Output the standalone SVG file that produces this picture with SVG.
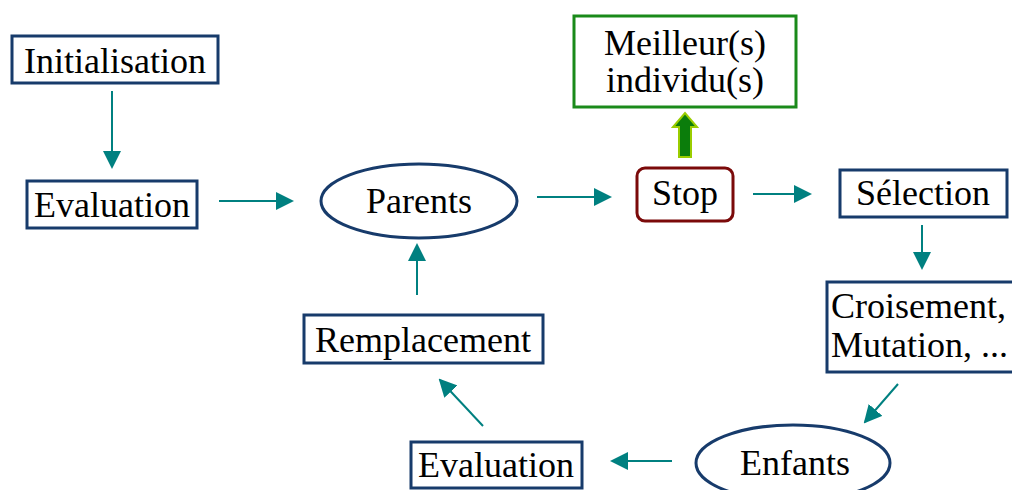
<svg xmlns="http://www.w3.org/2000/svg" width="1012" height="490" viewBox="0 0 1012 490">
<defs>
<marker id="ah" markerWidth="9" markerHeight="9" refX="8" refY="4.5" orient="auto" markerUnits="strokeWidth">
<path d="M0,0 L9,4.5 L0,9 Z" fill="#008080"/>
</marker>
</defs>
<rect width="1012" height="490" fill="#fff"/>
<g id="connectors" stroke="#008080" stroke-width="2" fill="none" marker-end="url(#ah)">
<line x1="112" y1="91" x2="112" y2="167"/>
<line x1="219" y1="201" x2="292" y2="201"/>
<line x1="537" y1="197" x2="610" y2="197"/>
<line x1="753" y1="194" x2="810" y2="194"/>
<line x1="922" y1="225" x2="922" y2="268"/>
<line x1="898" y1="384" x2="865" y2="422"/>
<line x1="672" y1="461" x2="612" y2="461"/>
<line x1="483" y1="426" x2="440" y2="380"/>
<line x1="417" y1="295" x2="417" y2="245"/>
</g>
<g id="stop-arrow">
<path d="M679,157 L679,127 L673,127 L685,113 L697,127 L691,127 L691,157 Z" fill="#0b7d0b" stroke="#9acd00" stroke-width="2"/>
</g>
<g font-family="Liberation Serif" font-size="36" fill="#000">
<g id="initialisation">
<rect x="12" y="36" width="206" height="47" fill="#fff" stroke="#173b6b" stroke-width="3"/>
<text x="115" y="73" text-anchor="middle">Initialisation</text>
</g>
<g id="evaluation1">
<rect x="27" y="181" width="170" height="47" fill="#fff" stroke="#173b6b" stroke-width="3"/>
<text x="112" y="217" text-anchor="middle">Evaluation</text>
</g>
<g id="parents">
<ellipse cx="419" cy="201" rx="98" ry="37" fill="#fff" stroke="#173b6b" stroke-width="3"/>
<text x="419" y="213" text-anchor="middle">Parents</text>
</g>
<g id="stop">
<rect x="637" y="168" width="96" height="53" rx="8" fill="#fff" stroke="#7b0a0a" stroke-width="3"/>
<text x="685" y="205" text-anchor="middle">Stop</text>
</g>
<g id="meilleurs">
<rect x="574" y="16" width="222" height="91" fill="#fff" stroke="#1a8a1a" stroke-width="3"/>
<text x="685" y="55" text-anchor="middle">Meilleur(s)</text>
<text x="685" y="92" text-anchor="middle">individu(s)</text>
</g>
<g id="selection">
<rect x="840" y="170" width="167" height="47" fill="#fff" stroke="#173b6b" stroke-width="3"/>
<text x="923" y="205" text-anchor="middle">Sélection</text>
</g>
<g id="croisement">
<rect x="827" y="282" width="200" height="90" fill="#fff" stroke="#173b6b" stroke-width="3"/>
<text x="831" y="318">Croisement,</text>
<text x="831" y="357">Mutation, ...</text>
</g>
<g id="enfants">
<ellipse cx="793" cy="463" rx="97" ry="38" fill="#fff" stroke="#173b6b" stroke-width="3"/>
<text x="795" y="475" text-anchor="middle">Enfants</text>
</g>
<g id="evaluation2">
<rect x="411" y="442" width="171" height="46" fill="#fff" stroke="#173b6b" stroke-width="3"/>
<text x="496" y="477" text-anchor="middle">Evaluation</text>
</g>
<g id="remplacement">
<rect x="304" y="315" width="239" height="48" fill="#fff" stroke="#173b6b" stroke-width="3"/>
<text x="423" y="352" text-anchor="middle">Remplacement</text>
</g>
</g>
</svg>
